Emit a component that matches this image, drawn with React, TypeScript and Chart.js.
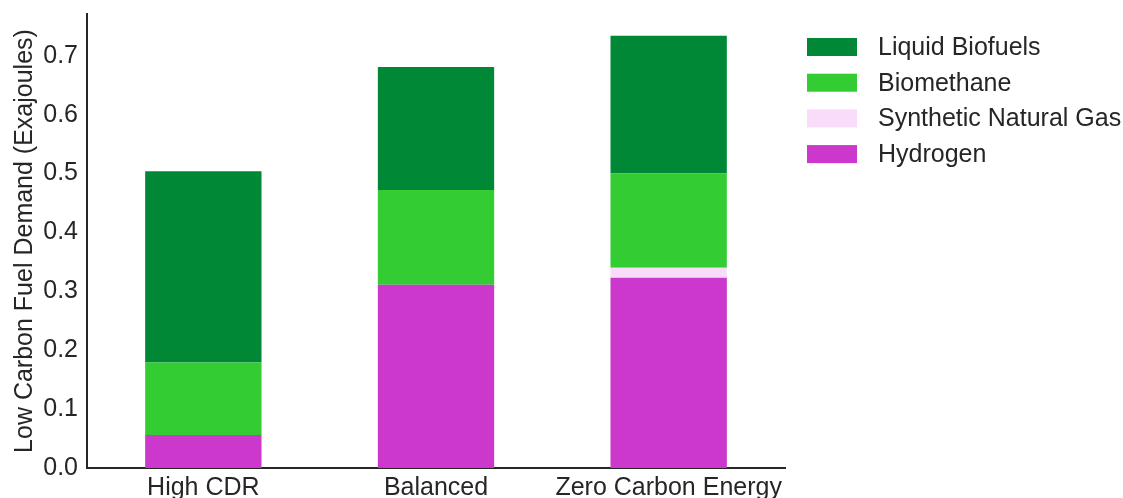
import React, { useEffect, useRef } from "react";
import { Chart, registerables } from "chart.js";

Chart.register(...registerables);

const categories = ["High CDR", "Balanced", "Zero Carbon Energy"];
const hydrogen = [0.056, 0.311, 0.323];
const syntheticNaturalGas = [0, 0, 0.017];
const biomethane = [0.123, 0.161, 0.16];
const liquidBiofuels = [0.325, 0.209, 0.234];
const yTicks = [0, 0.1, 0.2, 0.3, 0.4, 0.5, 0.6, 0.7];

const FONT = "'Liberation Sans', Arial, Helvetica, sans-serif";
const TEXT = "#262626";
const FS = 25;

const legendPlugin = {
  id: "customLegend",
  afterDraw(chart: any) {
    const ctx = chart.ctx;
    const items = [...chart.data.datasets].reverse();
    ctx.save();
    ctx.font = `${FS}px ${FONT}`;
    ctx.textBaseline = "middle";
    ctx.textAlign = "left";
    items.forEach((ds: any, i: number) => {
      const cy = 47 + i * 35.7;
      ctx.fillStyle = ds.backgroundColor;
      ctx.fillRect(807, cy - 9, 50, 18);
      ctx.fillStyle = TEXT;
      ctx.fillText(ds.label, 878, cy + 1);
    });
    ctx.restore();
  },
};

export default function App() {
  const ref = useRef<HTMLCanvasElement>(null);
  useEffect(() => {
    if (!ref.current) return;
    const chart = new Chart(ref.current, {
      type: "bar",
      data: {
        labels: categories,
        datasets: [
          { label: "Hydrogen", data: hydrogen, backgroundColor: "#cc38cc" },
          { label: "Synthetic Natural Gas", data: syntheticNaturalGas, backgroundColor: "#f9dcfa" },
          { label: "Biomethane", data: biomethane, backgroundColor: "#33cc33" },
          { label: "Liquid Biofuels", data: liquidBiofuels, backgroundColor: "#008837" },
        ],
      },
      options: {
        animation: false,
        responsive: false,
        maintainAspectRatio: false,
        layout: { padding: { top: 14, right: 338, left: 0, bottom: 0 } },
        datasets: { bar: { categoryPercentage: 1, barPercentage: 0.5, borderWidth: 0 } },
        plugins: { legend: { display: false }, tooltip: { enabled: false }, title: { display: false } },
        scales: {
          x: {
            stacked: true,
            grid: { display: false, drawTicks: false },
            border: { display: true, color: TEXT, width: 2 },
            ticks: { color: TEXT, font: { family: FONT, size: FS }, padding: 5, maxRotation: 0, autoSkip: false },
            afterFit(scale: any) {
              scale.height = 30;
              scale.paddingLeft = 0;
              scale.paddingRight = 0;
            },
          },
          y: {
            stacked: true,
            min: 0,
            max: 0.771,
            grid: { display: false, drawTicks: false },
            border: { display: true, color: TEXT, width: 2 },
            afterBuildTicks(scale: any) {
              scale.ticks = yTicks.map((v) => ({ value: v }));
            },
            ticks: {
              color: TEXT,
              font: { family: FONT, size: FS },
              padding: 9,
              callback: (v: any) => Number(v).toFixed(1),
            },
            title: {
              display: true,
              text: "Low Carbon Fuel Demand (Exajoules)",
              color: TEXT,
              font: { family: FONT, size: FS },
              padding: { top: 10, bottom: 0 },
            },
            afterFit(scale: any) {
              scale.width = 87;
              scale.paddingTop = 0;
              scale.paddingBottom = 0;
            },
          },
        },
      },
      plugins: [legendPlugin],
    });
    return () => chart.destroy();
  }, []);
  return (
    <div style={{ position: "absolute", left: 0, top: 0, width: 1123, height: 498, background: "#fff" }}>
      <canvas ref={ref} width={1123} height={498} style={{ width: 1123, height: 498 }} />
    </div>
  );
}
